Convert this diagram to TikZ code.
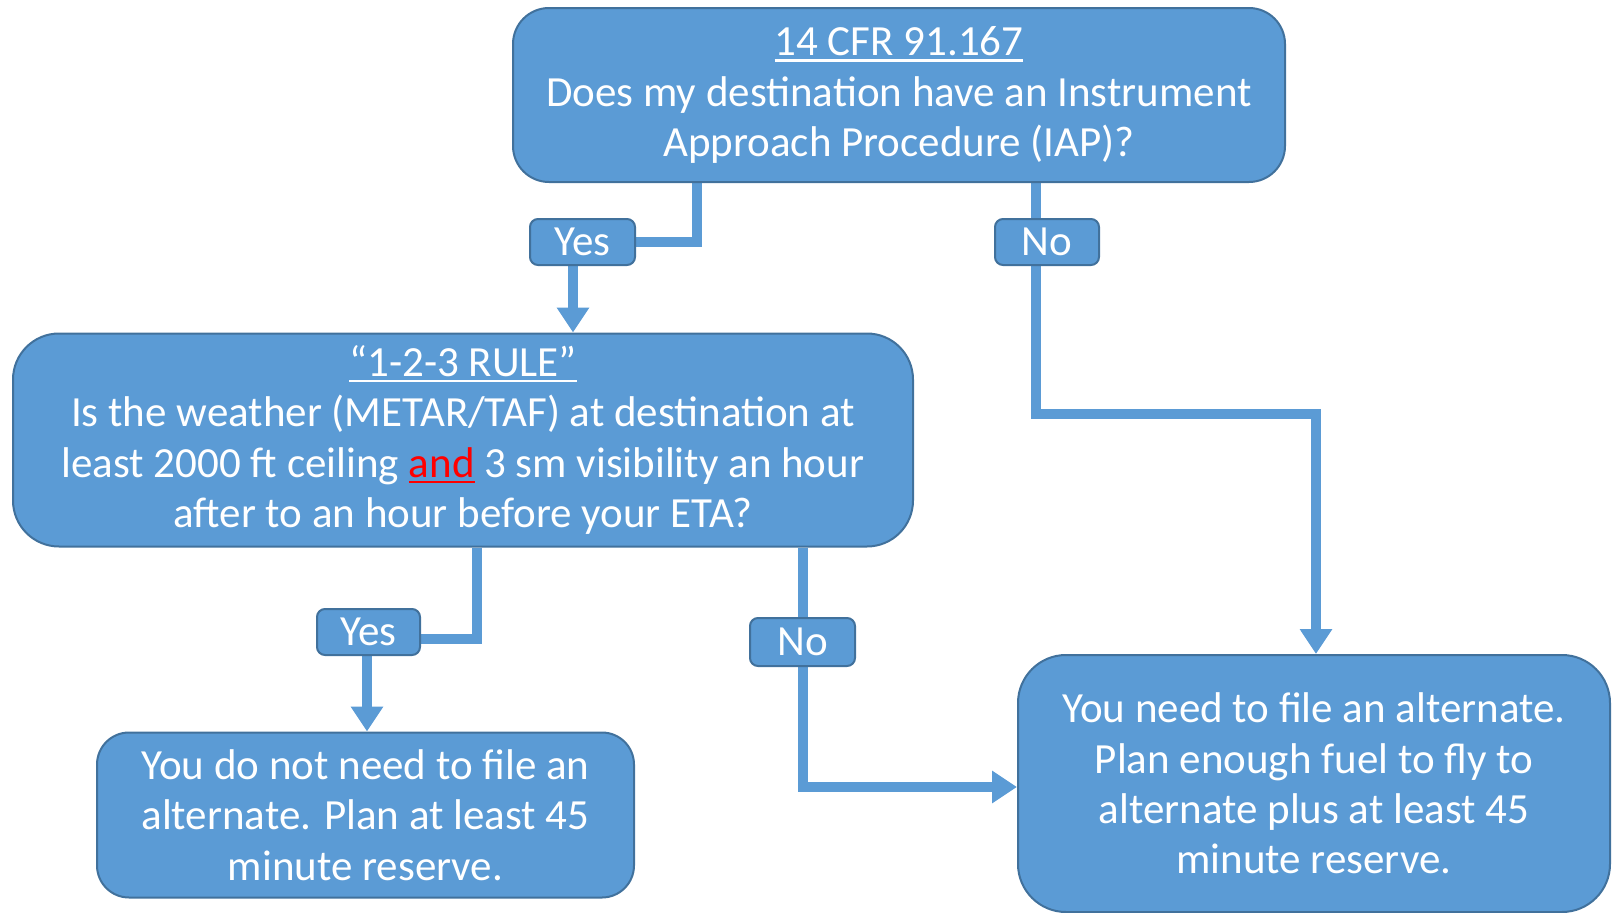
\documentclass[tikz,border=0pt]{standalone}
\usepackage{fontspec}
\setmainfont{Carlito}
\usetikzlibrary{arrows.meta}
\definecolor{boxfill}{HTML}{5B9BD5}
\definecolor{boxline}{HTML}{41719C}
\newcommand\myul[1]{\setbox0\hbox{#1}\rlap{\rule[-6pt]{\wd0}{2.6pt}}\box0}
\pgfdeclarelayer{bg}
\pgfsetlayers{bg,main}
\tikzset{
  box/.style={draw=boxline, line width=2pt, fill=boxfill, text=white, align=center,
    inner sep=0pt, font=\fontsize{43}{50.4}\selectfont},
  lbl/.style={box, rounded corners=8pt},
  conn/.style={draw=boxfill, line width=10pt},
  arr/.style={conn, -{Triangle[width=31pt,length=25pt]}}
}
\begin{document}
\begin{tikzpicture}[x=1pt,y=-1pt]
\useasboundingbox (0,0) rectangle (1612,913);
\node[box, rounded corners=36pt, minimum width=772pt, minimum height=174pt] (q1) at (899,95)
  {\myul{14 CFR 91.167}\\Does my destination have an Instrument\\Approach Procedure (IAP)?};
\node[box, rounded corners=46pt, minimum width=900pt, minimum height=213pt] (q2) at (463,440)
  {\myul{“1-2-3 RULE”}\\Is the weather (METAR/TAF) at destination at\\least 2000 ft ceiling {\color{red}\myul{and}} 3 sm visibility an hour\\after to an hour before your ETA?};
\node[box, rounded corners=32pt, minimum width=537pt, minimum height=165pt] (r1) at (365.5,815)
  {You do not need to file an\\alternate. Plan at least 45\\minute reserve.};
\node[box, rounded corners=48pt, minimum width=592pt, minimum height=257pt] (r2) at (1314,783.5)
  {You need to file an alternate.\\Plan enough fuel to fly to\\alternate plus at least 45\\minute reserve.};
\node[lbl, minimum width=105pt, minimum height=46pt] (y1) at (582.5,242) {Yes};
\node[lbl, minimum width=104pt, minimum height=46pt] (n1) at (1047,242) {No};
\node[lbl, minimum width=103pt, minimum height=46pt] (y2) at (368.5,632) {Yes};
\node[lbl, minimum width=105pt, minimum height=48pt] (n2) at (802.5,642) {No};
\coordinate (j1) at (697,242);
\coordinate (a1) at (573,300);
\coordinate (j2) at (1036,414);
\coordinate (j3) at (1316,414);
\coordinate (j4) at (477,639);
\coordinate (a2) at (367,700);
\coordinate (j5) at (803,787);
\begin{pgfonlayer}{bg}
\draw[conn] (q1.south -| j1) -- (j1) -- (y1.east |- j1);
\draw[arr] (y1.south -| a1) -- (q2.north -| a1);
\draw[arr] (q1.south -| j2) -- (j2) -- (j3) -- (r2.north -| j3);
\draw[conn] (q2.south -| j4) -- (j4) -- (y2.east |- j4);
\draw[arr] (y2.south -| a2) -- (r1.north -| a2);
\draw[arr] (q2.south -| j5) -- (j5) -- (r2.west |- j5);
\end{pgfonlayer}
\end{tikzpicture}
\end{document}
